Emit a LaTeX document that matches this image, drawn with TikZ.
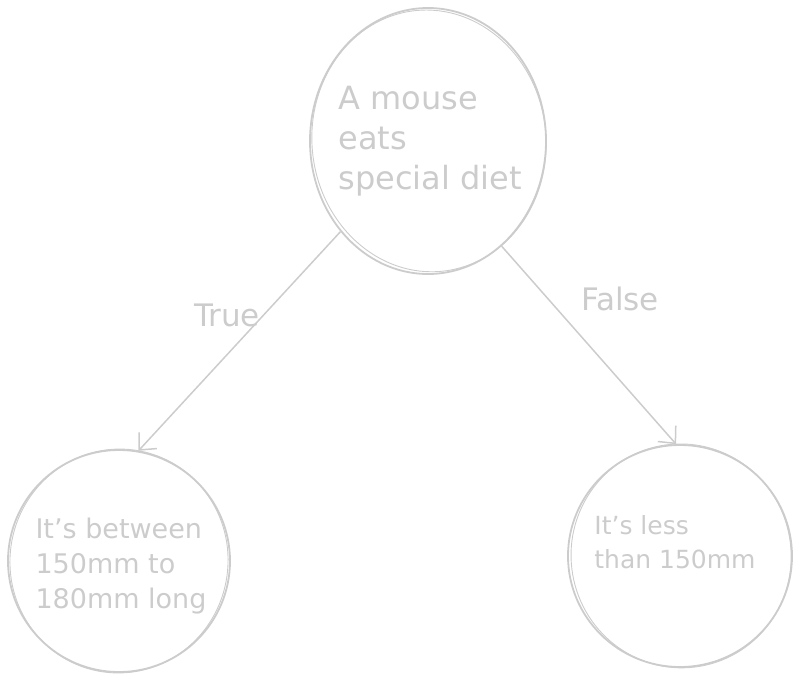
\documentclass[tikz,border=0pt]{standalone}
\usepackage{fontspec}
\setmainfont{DejaVu Sans}
\usetikzlibrary{shapes.geometric,arrows.meta}
\definecolor{sk}{RGB}{204,204,204}
\begin{document}
\begin{tikzpicture}[x=1pt,y=-1pt,
  bubble/.style={ellipse,draw=sk,line width=1.8pt,inner sep=0pt},
  txt/.style={align=left,text=sk,inner sep=0pt},
  sketch/.style={draw=sk,line width=0.9pt},
  conn/.style={draw=sk,line width=1.5pt,-{Straight Barb[length=13pt,width=24pt,line width=1.5pt]}},
  lbl/.style={text=sk,font=\fontsize{31}{34}\selectfont}]
\useasboundingbox (0,0) rectangle (800,683);
\node[bubble,minimum width=236pt,minimum height=266pt] (top) at (428,141) {};
\node[bubble,minimum width=222pt,minimum height=222pt] (bl) at (119,561) {};
\node[bubble,minimum width=224pt,minimum height=222pt] (br) at (680,556) {};
\node[txt,font=\fontsize{32}{40}\selectfont] (toptext) at (430,141) {A mouse\\eats\\special diet};
\node[txt,font=\fontsize{27}{35}\selectfont] (bltext) at (121,566) {It's between\\150mm to\\180mm long};
\node[txt,font=\fontsize{25}{34}\selectfont] (brtext) at (675,542) {It's less\\than 150mm};
% second sketch strokes
\draw[sketch,rotate around={6:(top.center)}] ([xshift=1pt]top.center) ellipse [x radius=117pt, y radius=131pt];
\draw[sketch,rotate around={-8:(bl.center)}] (bl.center) ellipse [x radius=109pt, y radius=112pt];
\draw[sketch,rotate around={10:(br.center)}] ([xshift=1pt]br.center) ellipse [x radius=110pt, y radius=112pt];
% connectors
\draw[conn] (top.226) -- (bl.80);
\draw[conn] (top.305) -- (br.92);
\node[lbl] (ltrue) at (227,315) {True};
\node[lbl] (lfalse) at (620,299) {False};
\end{tikzpicture}
\end{document}
